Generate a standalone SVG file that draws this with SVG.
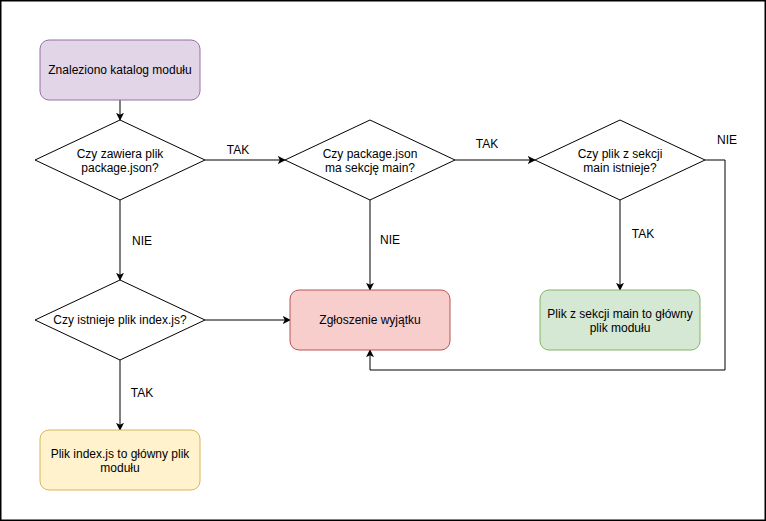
<svg xmlns="http://www.w3.org/2000/svg" width="766" height="521" viewBox="0 0 766 521">
  <style>
    text { font-family: "Liberation Sans", Arial, Helvetica, sans-serif; font-size: 12px; fill: #000; }
    .c { text-anchor: middle; }
    .dec { fill: #fff; stroke: #000; stroke-width: 1; }
    .edge { fill: none; stroke: #000; stroke-width: 1; }
    .purple { fill: #e1d5e7; stroke: #9673a6; }
    .red { fill: #f8cecc; stroke: #b85450; }
    .green { fill: #d5e8d4; stroke: #82b366; }
    .yellow { fill: #fff2cc; stroke: #d6b656; }
  </style>
  <defs>
    <marker id="arrow" viewBox="0 0 10 10" refX="9" refY="5" markerWidth="8" markerHeight="8" markerUnits="userSpaceOnUse" orient="auto">
      <path d="M0,0 L10,5 L0,10 L2.5,5 Z" fill="#000"/>
    </marker>
  </defs>

  <rect x="0.75" y="0.75" width="764.5" height="519.5" fill="#fff" stroke="#000" stroke-width="1.5"/>

  <g id="connectors">
    <path class="edge" d="M120,100 L120,120" marker-end="url(#arrow)"/>
    <path class="edge" d="M205,160 L285,160" marker-end="url(#arrow)"/>
    <path class="edge" d="M455,160 L535,160" marker-end="url(#arrow)"/>
    <path class="edge" d="M120,200 L120,280" marker-end="url(#arrow)"/>
    <path class="edge" d="M370,200 L370,290" marker-end="url(#arrow)"/>
    <path class="edge" d="M620,200 L620,290" marker-end="url(#arrow)"/>
    <path class="edge" d="M205,320 L290,320" marker-end="url(#arrow)"/>
    <path class="edge" d="M120,360 L120,430" marker-end="url(#arrow)"/>
    <path class="edge" d="M705,160 L725,160 L725,370 L370,370 L370,350" marker-end="url(#arrow)"/>
    <text x="238" y="154" class="c">TAK</text>
    <text x="487" y="148" class="c">TAK</text>
    <text x="727" y="144" class="c">NIE</text>
    <text x="142" y="245" class="c">NIE</text>
    <text x="390" y="244" class="c">NIE</text>
    <text x="643" y="238" class="c">TAK</text>
    <text x="142" y="397" class="c">TAK</text>
  </g>

  <g id="start">
    <rect x="40" y="40" width="160" height="60" rx="9" class="purple"/>
    <text x="120" y="74" class="c">Znaleziono katalog modułu</text>
  </g>

  <g id="has-package-json">
    <polygon points="120,120 205,160 120,200 35,160" class="dec"/>
    <text x="120" y="158" class="c">Czy zawiera plik</text>
    <text x="120" y="172" class="c">package.json?</text>
  </g>

  <g id="has-main">
    <polygon points="370,120 455,160 370,200 285,160" class="dec"/>
    <text x="370" y="158" class="c">Czy package.json</text>
    <text x="370" y="172" class="c">ma sekcję main?</text>
  </g>

  <g id="main-exists">
    <polygon points="620,120 705,160 620,200 535,160" class="dec"/>
    <text x="620" y="158" class="c">Czy plik z sekcji</text>
    <text x="620" y="172" class="c">main istnieje?</text>
  </g>

  <g id="index-exists">
    <polygon points="120,280 205,320 120,360 35,320" class="dec"/>
    <text x="120" y="324" class="c">Czy istnieje plik index.js?</text>
  </g>

  <g id="error">
    <rect x="290" y="290" width="160" height="60" rx="9" class="red"/>
    <text x="370" y="324" class="c">Zgłoszenie wyjątku</text>
  </g>

  <g id="main-result">
    <rect x="540" y="290" width="160" height="60" rx="9" class="green"/>
    <text x="620" y="318" class="c">Plik z sekcji main to główny</text>
    <text x="620" y="332" class="c">plik modułu</text>
  </g>

  <g id="index-result">
    <rect x="40" y="430" width="160" height="60" rx="9" class="yellow"/>
    <text x="120" y="458" class="c">Plik index.js to główny plik</text>
    <text x="120" y="472" class="c">modułu</text>
  </g>
</svg>
